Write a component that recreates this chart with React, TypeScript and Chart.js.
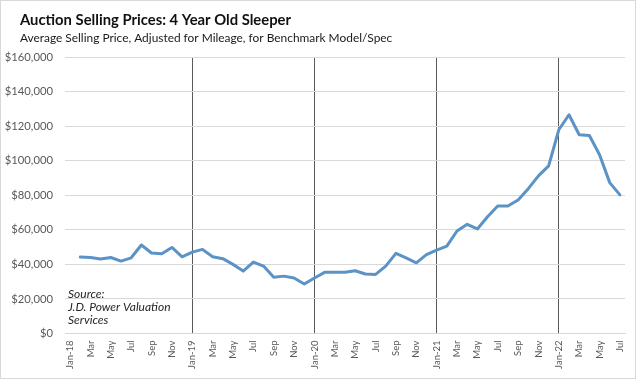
import React, { useEffect, useRef } from 'react';
import { Chart, registerables } from 'chart.js';

Chart.register(...registerables);

const titleText = 'Auction Selling Prices: 4 Year Old Sleeper';
const subtitleText = 'Average Selling Price, Adjusted for Mileage, for Benchmark Model/Spec';
const sourceLines = ['Source:', 'J.D. Power Valuation', 'Services'];

const categories = [
  'Jan-18', 'Feb', 'Mar', 'Apr', 'May', 'Jun', 'Jul', 'Aug', 'Sep', 'Oct', 'Nov', 'Dec',
  'Jan-19', 'Feb', 'Mar', 'Apr', 'May', 'Jun', 'Jul', 'Aug', 'Sep', 'Oct', 'Nov', 'Dec',
  'Jan-20', 'Feb', 'Mar', 'Apr', 'May', 'Jun', 'Jul', 'Aug', 'Sep', 'Oct', 'Nov', 'Dec',
  'Jan-21', 'Feb', 'Mar', 'Apr', 'May', 'Jun', 'Jul', 'Aug', 'Sep', 'Oct', 'Nov', 'Dec',
  'Jan-22', 'Feb', 'Mar', 'Apr', 'May', 'Jun', 'Jul',
];

const prices = [
  null, 44200, 44000, 43100, 44000, 41900, 43800, 51200, 46600, 46200, 49800, 44400,
  47100, 48700, 44400, 43300, 40000, 36100, 41300, 39000, 32500, 33200, 32100, 28600,
  32100, 35400, 35400, 35400, 36300, 34400, 34200, 39000, 46400, 43700, 40900, 45600,
  48300, 50600, 59300, 63200, 60500, 67600, 73800, 73800, 77300, 83800, 91200, 97000,
  117900, 126600, 115000, 114600, 103400, 87300, 80200,
];

const yMin = 0;
const yMax = 160000;
const yStep = 20000;

const FONT = 'Lato, "Noto Sans", sans-serif';

const textPlugin = {
  id: 'textPlugin',
  afterDraw(chart: any) {
    const ctx = chart.ctx;
    const area = chart.chartArea;
    ctx.save();
    ctx.textAlign = 'left';
    ctx.textBaseline = 'alphabetic';
    ctx.fillStyle = '#111111';
    ctx.font = `bold 14.8px ${FONT}`;
    ctx.fillText(titleText, 19, 23.5);
    ctx.fillStyle = '#1a1a1a';
    ctx.font = `11.9px ${FONT}`;
    ctx.fillText(subtitleText, 19, 40.5);
    ctx.fillStyle = '#262626';
    ctx.font = `italic 12px ${FONT}`;
    sourceLines.forEach((line, i) => {
      ctx.fillText(line, area.left + 3, 296.5 + i * 13.3);
    });
    ctx.restore();
  },
};

export default function App() {
  const canvasRef = useRef<HTMLCanvasElement>(null);

  useEffect(() => {
    if (!canvasRef.current) return;
    const chart = new Chart(canvasRef.current, {
      type: 'line',
      data: {
        labels: categories,
        datasets: [
          {
            data: prices,
            borderColor: '#5b93c6',
            borderWidth: 3,
            pointRadius: 0,
            tension: 0,
            borderJoinStyle: 'round',
            borderCapStyle: 'round',
            fill: false,
          },
        ],
      },
      options: {
        animation: false,
        responsive: false,
        layout: { padding: { top: 56, right: 10, bottom: 0, left: 0 } },
        plugins: {
          legend: { display: false },
          tooltip: { enabled: false },
          title: { display: false },
        },
        scales: {
          x: {
            type: 'category',
            offset: true,
            afterFit: (scale: any) => {
              scale.height = 44.5;
              scale.paddingLeft = 0;
              scale.paddingRight = 0;
            },
            grid: {
              offset: false,
              drawTicks: false,
              lineWidth: 1,
              color: (c: any) => (c.index > 0 && c.index % 12 === 0 ? '#5a5a5a' : 'rgba(0,0,0,0)'),
            },
            border: { display: true, color: '#d9d9d9', width: 1 },
            ticks: {
              autoSkip: false,
              maxRotation: 90,
              minRotation: 90,
              padding: 7,
              color: '#595959',
              font: { family: FONT, size: 9.5 },
              callback: (_v: any, idx: number) => (idx % 2 === 0 ? categories[idx] : ''),
            },
          },
          y: {
            min: yMin,
            max: yMax,
            afterFit: (scale: any) => {
              scale.width = 64;
            },
            grid: { color: '#d9d9d9', lineWidth: 1, drawTicks: false },
            border: { display: false },
            ticks: {
              stepSize: yStep,
              padding: 12,
              color: '#595959',
              font: { family: FONT, size: 11.25 },
              callback: (v: any) => '$' + Number(v).toLocaleString('en-US'),
            },
          },
        },
      },
      plugins: [textPlugin],
    } as any);
    return () => chart.destroy();
  }, []);

  return (
    <div
      style={{
        position: 'absolute',
        left: 0,
        top: 0,
        width: 636,
        height: 379,
        border: '1px solid #d9d9d9',
        boxSizing: 'border-box',
        background: '#ffffff',
      }}
    >
      <canvas ref={canvasRef} width={634} height={377} style={{ display: 'block', width: 634, height: 377 }} />
    </div>
  );
}
